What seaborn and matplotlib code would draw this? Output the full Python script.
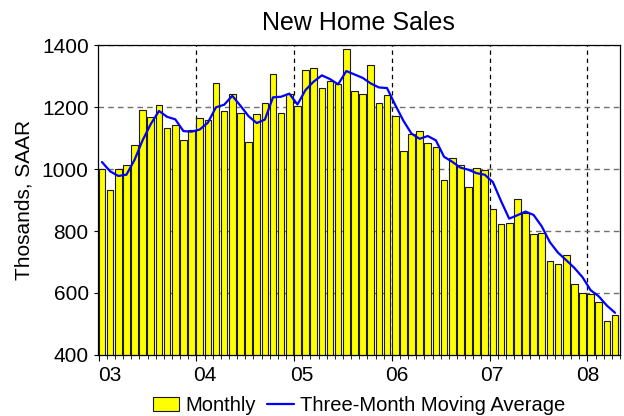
import numpy as np
import pandas as pd
import matplotlib
matplotlib.use("Agg")
import matplotlib.pyplot as plt
import matplotlib.transforms as mtransforms
import seaborn as sns

# ======================
# DATA
# ======================

months = pd.date_range("2003-01-01", periods=64, freq="MS")

monthly = [
    1000, 934, 1000, 1012, 1078, 1191, 1168, 1206, 1133, 1143, 1093, 1127,
    1165, 1159, 1277, 1189, 1244, 1181, 1089, 1177, 1214, 1306, 1181, 1244,
    1203, 1320, 1327, 1261, 1286, 1276, 1389, 1254, 1243, 1335, 1214, 1238,
    1173, 1059, 1113, 1123, 1084, 1073, 964, 1035, 1015, 943, 1004, 998,
    872, 822, 826, 905, 858, 792, 795, 704, 692, 722, 630, 600,
    597, 571, 510, 528,
]

moving_avg = [
    1023, 993, 978, 982, 1030, 1094, 1146, 1188, 1169, 1161, 1123, 1121,
    1128, 1150, 1200, 1208, 1237, 1205, 1171, 1149, 1160, 1232, 1234, 1244,
    1209, 1256, 1283, 1303, 1291, 1274, 1317, 1306, 1295, 1277, 1264, 1262,
    1208, 1157, 1115, 1098, 1107, 1093, 1040, 1024, 1005, 998, 987, 982,
    958, 897, 840, 851, 863, 852, 815, 764, 730, 706, 681, 651,
    609, 589, 559, 536,
]

year_labels = ["03", "04", "05", "06", "07", "08"]

df = pd.DataFrame({
    "month": months.strftime("%Y-%m"),
    "pos": np.arange(len(monthly)),
    "sales": monthly,
    "ma": moving_avg,
})

# ======================
# STYLE
# ======================

sns.set_style("white")
plt.rcParams["font.family"] = ["Liberation Sans", "DejaVu Sans"]
plt.rcParams["text.color"] = "black"
plt.rcParams["axes.labelcolor"] = "black"
plt.rcParams["xtick.color"] = "black"
plt.rcParams["ytick.color"] = "black"

fig, ax = plt.subplots(figsize=(6.24, 4.16), dpi=100)
fig.subplots_adjust(left=0.1565, right=0.9935, top=0.891, bottom=0.147)

# ======================
# PLOT
# ======================

sns.barplot(
    data=df, x="month", y="sales",
    color="#FFFF00", saturation=1, edgecolor="#1a1a1a", linewidth=0.8,
    width=0.82, errorbar=None, ax=ax, label="Monthly", zorder=2,
)

sns.lineplot(
    data=df, x="pos", y="ma",
    color="#0000FF", linewidth=1.6, ax=ax,
    label="Three-Month Moving Average", zorder=3,
)

ax.set_xlim(-0.53, 63.56)
ax.set_ylim(400, 1400)
ax.set_yticks(range(400, 1401, 200))

# year boundaries (major) and month boundaries (minor)
ax.set_xticks([12 * k - 0.4 for k in range(len(year_labels))])
ax.set_xticklabels(year_labels)
ax.set_xticks(np.arange(65) - 0.4, minor=True)

ax.set_axisbelow(True)
ax.xaxis.grid(True, which="major", linestyle=(0, (3.5, 3)), color="black", linewidth=0.9)
ax.yaxis.grid(True, which="major", linestyle=(0, (4, 3)), color="#707070", linewidth=1.0)
ax.xaxis.get_major_ticks()[0].gridline.set_visible(False)

ax.tick_params(axis="x", which="major", direction="out", length=4, width=0.8,
               labelsize=15, pad=4, bottom=True, colors="black")
ax.tick_params(axis="x", which="minor", direction="out", length=3, width=0.6,
               bottom=True, colors="black")
ax.tick_params(axis="y", which="major", direction="out", length=3, width=0.8,
               labelsize=15, left=True, colors="black")

# nudge the year labels a little to the right, like the original
offsets_px = [11, 8, 7.5, 4.5, 2.5, 0.5]
for tick, dx in zip(ax.xaxis.get_major_ticks(), offsets_px):
    lab = tick.label1
    lab.set_transform(lab.get_transform() +
                      mtransforms.ScaledTranslation(dx / 100, 0, fig.dpi_scale_trans))

for side in ["top", "right", "left", "bottom"]:
    ax.spines[side].set_visible(True)
    ax.spines[side].set_color("black")
    ax.spines[side].set_linewidth(0.9)

ax.set_title("New Home Sales", fontsize=18, pad=11, color="black")
ax.set_xlabel("")
ax.set_ylabel("Thosands, SAAR", fontsize=15, labelpad=6, color="black")

handles, labels = ax.get_legend_handles_labels()
order = [labels.index("Monthly"), labels.index("Three-Month Moving Average")]
ax.legend(
    [handles[i] for i in order], [labels[i] for i in order],
    loc="center", bbox_to_anchor=(0.5, -0.163), ncol=2, frameon=False,
    fontsize=14.5, handlelength=1.3, handletextpad=0.3, columnspacing=0.6,
    labelcolor="black",
)

plt.savefig("out.png", dpi=100)
